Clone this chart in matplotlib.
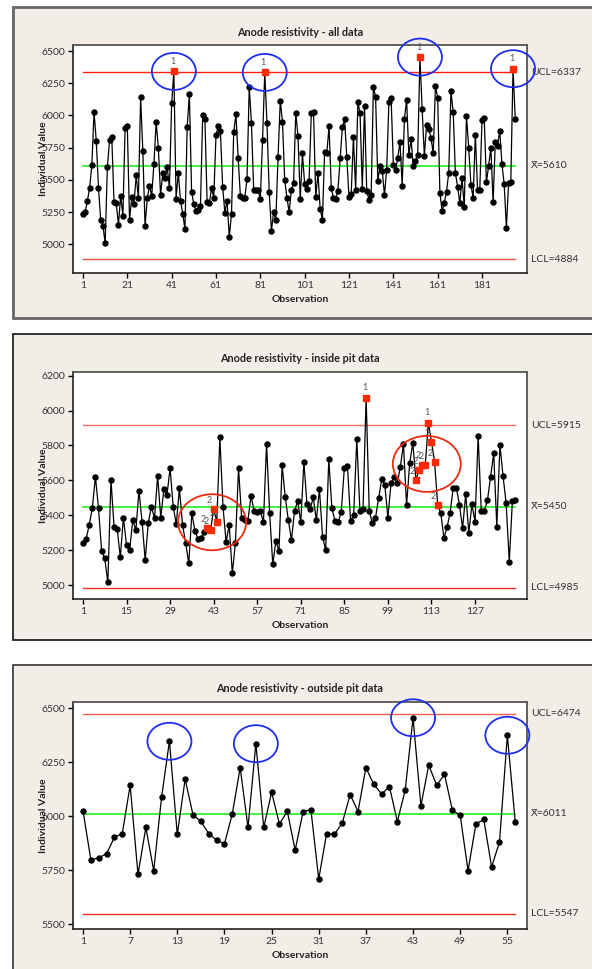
import matplotlib
matplotlib.use('Agg')
import matplotlib.pyplot as plt
from matplotlib.patches import Rectangle, Ellipse

plt.rcParams['font.family'] = ['Lato', 'DejaVu Sans']

# ---- data ----
# all data, 196 observations
all_vals = [5236, 5251, 5337, 5438, 5614, 6029, 5801, 5438, 5189, 5145,
            5010, 5598, 5808, 5829, 5326, 5319, 5153, 5376, 5223, 5902,
            5917, 5189, 5365, 5313, 5534, 5358, 6140, 5725, 5142, 5358,
            5453, 5376, 5624, 5946, 5751, 5383, 5552, 5513, 5598, 5438,
            6093, 6342, 5350, 5557, 5337, 5238, 5117, 5912, 6163, 5404,
            5313, 5256, 5267, 5298, 6003, 5972, 5326, 5319, 5435, 5363,
            5845, 5917, 5878, 5448, 5246, 5337, 5060, 5236, 5868, 6010,
            5670, 5376, 5363, 5363, 5505, 6220, 5943, 5422, 5422, 5422,
            5352, 5806, 6334, 5943, 5409, 5106, 5249, 5189, 5679, 6111,
            5953, 5497, 5363, 5249, 5422, 5474, 6021, 5837, 5352, 5705,
            5466, 5430, 5495, 6016, 6029, 5365, 5552, 5272, 5189, 5715,
            5705, 5917, 5438, 5357, 5355, 5417, 5668, 5907, 5969, 5681,
            5365, 5391, 5834, 5422, 6104, 6016, 5430, 6073, 5415, 5345,
            5383, 6220, 6145, 5495, 5609, 5572, 5383, 5578, 6101, 6137,
            5619, 5578, 5668, 5795, 5456, 5974, 6119, 5694, 5816, 5604,
            5650, 5694, 6453, 6047, 5687, 5927, 5896, 5826, 5707, 6231,
            6137, 5401, 5259, 5324, 5409, 5557, 6187, 6029, 5552, 5448,
            5319, 5513, 5290, 5997, 5751, 5461, 5363, 5850, 5422, 5422,
            5961, 5977, 5482, 5611, 5749, 5326, 5795, 5764, 5881, 5622,
            5469, 5130, 5479, 5487, 6363, 5972]
all_flag1 = [42, 83, 153, 195]
all_flag2 = []
all_circled = [42, 83, 153, 195]

# inside pit, 140 observations
pit_vals = [5243, 5262, 5344, 5439, 5621, 5439, 5195, 5153, 5015, 5602,
            5334, 5323, 5159, 5386, 5229, 5199, 5372, 5315, 5541, 5363,
            5143, 5357, 5449, 5382, 5627, 5386, 5548, 5516, 5670, 5449,
            5350, 5554, 5344, 5243, 5124, 5411, 5309, 5264, 5267, 5302,
            5325, 5315, 5437, 5363, 5846, 5449, 5248, 5344, 5067, 5243,
            5670, 5382, 5372, 5369, 5510, 5426, 5420, 5426, 5359, 5808,
            5411, 5118, 5252, 5195, 5686, 5506, 5372, 5258, 5426, 5481,
            5359, 5705, 5462, 5434, 5502, 5372, 5550, 5277, 5199, 5720,
            5439, 5369, 5359, 5420, 5670, 5684, 5367, 5401, 5835, 5426,
            5434, 6073, 5426, 5353, 5382, 5497, 5605, 5573, 5386, 5583,
            5621, 5583, 5678, 5806, 5458, 5697, 5815, 5602, 5659, 5690,
            5686, 5930, 5821, 5707, 5458, 5411, 5271, 5330, 5415, 5558,
            5558, 5458, 5325, 5521, 5300, 5462, 5363, 5854, 5426, 5426,
            5487, 5621, 5755, 5334, 5802, 5625, 5468, 5134, 5481, 5487]
pit_flag1 = [92, 112]
pit_flag2 = [41, 42, 43, 44, 108, 109, 110, 111, 113, 114, 115]
pit_groups = [[41, 42, 43, 44], [108, 109, 110, 111, 112, 113, 114, 115]]

# outside pit, 56 observations
out_vals = [6025, 5798, 5806, 5826, 5901, 5919, 6142, 5730, 5947, 5747,
            6087, 6346, 5915, 6170, 6006, 5975, 5919, 5888, 5871, 6010,
            6224, 5947, 6335, 5947, 6110, 5963, 6022, 5842, 6019, 6030,
            5708, 5919, 5915, 5969, 6099, 6021, 6224, 6147, 6102, 6136,
            5974, 6120, 6455, 6048, 6236, 6142, 6193, 6028, 6003, 5747,
            5964, 5984, 5764, 5880, 6374, 5974]
out_circled = [12, 23, 43, 55]

titles = ['Anode resistivity - all data',
          'Anode resistivity - inside pit data',
          'Anode resistivity - outside pit data']
limits = [(6337, 5610, 4884), (5915, 5450, 4985), (6474, 6011, 5547)]
xticks_all = list(range(1, 182, 20))
xticks_pit = list(range(1, 128, 14))
xticks_out = list(range(1, 56, 6))
yticks_all = [5000, 5250, 5500, 5750, 6000, 6250, 6500]
yticks_pit = [5000, 5200, 5400, 5600, 5800, 6000, 6200]
yticks_out = [5500, 5750, 6000, 6250, 6500]

BG = '#F2EEE7'
TXT = '#333333'
W, H = 592, 969

fig = plt.figure(figsize=(W / 100, H / 100), dpi=100)
fig.patch.set_facecolor('white')

def fx(px):
    return px / W

def fy(py):
    return 1 - py / H

# outer panel boxes
for top, bot, ec, lw in [(7, 318, '#666666', 2), (334, 640, '#111111', 1.2),
                         (665, 980, '#333333', 1.2)]:
    fig.patches.append(Rectangle((fx(13), fy(bot)), 1.2, (bot - top) / H,
                                 transform=fig.transFigure, fc=BG, ec=ec,
                                 lw=lw, zorder=-10))


def draw_panel(top, bottom, vals, title, lims, xticks, yticks, xlim, ylim,
               flag1, flag2, circled=None, groups=None, circ_col='#1E2EEE',
               ucl_col='#F03018', lcl_col='#F03018'):
    ax = fig.add_axes([fx(73), fy(bottom), fx(527 - 73), (bottom - top) / H])
    ax.set_zorder(1)
    obs = list(range(1, len(vals) + 1))
    ax.plot(obs, vals, '-', color='black', lw=0.9, zorder=3)
    ax.plot(obs, vals, 'o', color='black', ms=3.6, zorder=4)
    red = sorted(flag1 + flag2)
    ax.plot(red, [vals[i - 1] for i in red], 's', color='#FF2A00', ms=4,
            zorder=5)
    for i in flag1:
        ax.annotate('1', (i, vals[i - 1]), xytext=(-1, 4),
                    textcoords='offset points', ha='center', va='bottom',
                    fontsize=6.5, color='#555555', zorder=6)
    for i in flag2:
        ax.annotate('2', (i, vals[i - 1]), xytext=(-3, 3),
                    textcoords='offset points', ha='center', va='bottom',
                    fontsize=6.5, color='#555555', zorder=6)

    ucl, cl, lcl = lims
    n = len(vals)
    ax.plot([1, n], [ucl, ucl], color=ucl_col, lw=1, zorder=2)
    ax.plot([1, n], [cl, cl], color='#22EE22', lw=1.2, zorder=2)
    ax.plot([1, n], [lcl, lcl], color=lcl_col, lw=1, zorder=2)

    xpx = (527 - 73) / (xlim[1] - xlim[0])
    ypx = (bottom - top) / (ylim[1] - ylim[0])
    if circled:
        for i in circled:
            ax.add_patch(Ellipse((i, vals[i - 1]), 44 / xpx, 37 / ypx,
                                 fill=False, ec=circ_col, lw=1.3, zorder=6,
                                 clip_on=False))
    if groups:
        for g in groups:
            cx = sum(g) / len(g)
            cy = sum(vals[i - 1] for i in g) / len(g)
            ax.add_patch(Ellipse((cx, cy), 68 / xpx, 56 / ypx,
                                 fill=False, ec=circ_col, lw=1.3, zorder=6))

    ax.set_xlim(*xlim)
    ax.set_ylim(*ylim)
    ax.set_xticks(xticks)
    ax.set_yticks(yticks)
    ax.tick_params(direction='out', length=3.5, width=1, labelsize=7.5,
                   labelcolor=TXT, pad=2)
    for s in ['left', 'bottom']:
        ax.spines[s].set_color('#222222')
        ax.spines[s].set_linewidth(1.2)
    for s in ['top', 'right']:
        ax.spines[s].set_color('#555555')
        ax.spines[s].set_linewidth(1.3)
    ax.set_facecolor('white')

    # texts
    fig.text(fx(300), fy(top - 13), title, ha='center', va='center',
             fontsize=7.8, fontweight='bold', color='#222222')
    fig.text(fx(300), fy(bottom + 27), 'Observation', ha='center',
             va='center', fontsize=7.5, fontweight='bold', color='#222222')
    fig.text(fx(44), fy((top + bottom) / 2), 'Individual Value',
             ha='center', va='center', rotation=90, fontsize=7.5,
             fontweight='bold', color='#222222', zorder=5)
    trans = ax.get_yaxis_transform()
    ax.text(1.009, ucl, 'UCL=%d' % ucl, transform=trans, ha='left',
            va='center', fontsize=7.5, color=TXT)
    ax.text(1.009, cl, 'X\u0304=%d' % cl, transform=trans, ha='left',
            va='center', fontsize=7.5, color=TXT)
    ax.text(1.009, lcl, 'LCL=%d' % lcl, transform=trans, ha='left',
            va='center', fontsize=7.5, color=TXT)
    return ax


draw_panel(45, 273, all_vals, titles[0], limits[0], xticks_all, yticks_all,
           (-3.5, 201.3), (4777, 6547), all_flag1, all_flag2,
           circled=all_circled, ucl_col='#FF2010', lcl_col='#E85040')
draw_panel(372, 599, pit_vals, titles[1], limits[1], xticks_pit, yticks_pit,
           (-2.2, 143.7), (4920, 6221), pit_flag1, pit_flag2,
           groups=pit_groups, circ_col='#EE2A10', ucl_col='#F07060',
           lcl_col='#F03020')
draw_panel(702, 929, out_vals, titles[2], limits[2], xticks_out, yticks_out,
           (-0.27, 57.5), (5477, 6528), [], [], circled=out_circled,
           ucl_col='#F06050', lcl_col='#E83020')

fig.savefig('out.png', dpi=100, facecolor='white')
